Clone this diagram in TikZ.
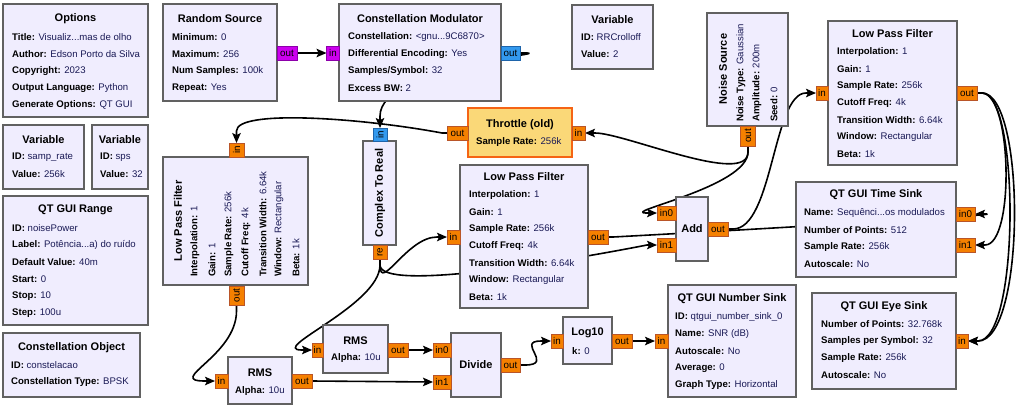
\documentclass[tikz,border=0pt]{standalone}
\usepackage{fontspec}
\setmainfont{Liberation Sans}
\usetikzlibrary{arrows.meta,calc}
\definecolor{blkfill}{RGB}{240,237,254}
\definecolor{blkline}{RGB}{97,97,97}
\definecolor{valcol}{RGB}{25,25,85}
\definecolor{portor}{RGB}{245,128,0}
\definecolor{portorb}{RGB}{185,85,40}
\definecolor{portpu}{RGB}{204,0,238}
\definecolor{portpub}{RGB}{140,0,170}
\definecolor{portbl}{RGB}{51,153,238}
\definecolor{portblb}{RGB}{30,100,170}
\definecolor{thrfill}{RGB}{250,216,120}
\definecolor{thrline}{RGB}{245,100,20}
\pgfdeclarelayer{bg}
\pgfdeclarelayer{wires}
\pgfsetlayers{bg,wires,main}
\newcommand{\gkv}[2]{\textbf{#1:} \textcolor{valcol}{#2}}
\begin{document}
\begin{tikzpicture}[x=1pt,y=-1pt,
  blk/.style={draw=blkline, line width=1.8pt, fill=blkfill, anchor=north west, inner sep=0pt, outer sep=0pt},
  thrblk/.style={blk, draw=thrline, fill=thrfill},
  ttl/.style={font=\fontsize{11}{13}\selectfont\bfseries, inner sep=0pt, anchor=center},
  row/.style={font=\fontsize{9.6}{12}\selectfont, inner sep=0pt, anchor=west},
  vrow/.style={row, rotate=90},
  vttl/.style={ttl, rotate=90},
  port/.style={draw=portorb, fill=portor, line width=0.8pt, inner sep=0pt, outer sep=0pt, minimum height=14pt, font=\fontsize{9.8}{12}\selectfont},
  pport/.style={port, draw=portpub, fill=portpu},
  bport/.style={port, draw=portblb, fill=portbl},
  vport/.style={port, rotate=90, minimum height=15pt},
  wire/.style={draw=black, line width=1.6pt, line join=round, -{Stealth[length=10pt,width=8.5pt,inset=2pt]}}
]
\begin{pgfonlayer}{bg}
\fill[white] (0,0) rectangle (1023,408);
\end{pgfonlayer}
\useasboundingbox (0,0) rectangle (1023,408);

% Options
\node[blk, minimum width=145pt, minimum height=113pt] (opt) at (3,4) {};
\node[ttl] (optT) at (75.5,19) {Options};
\node[row] (opt1) at (12,37) {\gkv{Title}{Visualiz...mas de olho}};
\node[row] (opt2) at (12,54) {\gkv{Author}{Edson Porto da Silva}};
\node[row] (opt3) at (12,71) {\gkv{Copyright}{2023}};
\node[row] (opt4) at (12,88) {\gkv{Output Language}{Python}};
\node[row] (opt5) at (12,105) {\gkv{Generate Options}{QT GUI}};

% Variables
\node[blk, minimum width=81pt, minimum height=64pt] (vsr) at (3,125) {};
\node[ttl] (vsrT) at (43.5,140) {Variable};
\node[row] (vsr1) at (12,157) {\gkv{ID}{samp\_rate}};
\node[row] (vsr2) at (12,174) {\gkv{Value}{256k}};

\node[blk, minimum width=56pt, minimum height=64pt] (vsps) at (92,125) {};
\node[ttl] (vspsT) at (120,140) {Variable};
\node[row] (vsps1) at (100,157) {\gkv{ID}{sps}};
\node[row] (vsps2) at (100,174) {\gkv{Value}{32}};

% QT GUI Range
\node[blk, minimum width=145pt, minimum height=129pt] (rng) at (3,196) {};
\node[ttl] (rngT) at (75.5,210) {QT GUI Range};
\node[row] (rng1) at (12,228) {\gkv{ID}{noisePower}};
\node[row] (rng2) at (12,245) {\gkv{Label}{Potência...a) do ruído}};
\node[row] (rng3) at (12,262) {\gkv{Default Value}{40m}};
\node[row] (rng4) at (12,279) {\gkv{Start}{0}};
\node[row] (rng5) at (12,296) {\gkv{Stop}{10}};
\node[row] (rng6) at (12,313) {\gkv{Step}{100u}};

% Constellation Object
\node[blk, minimum width=137pt, minimum height=64pt] (cob) at (3,333) {};
\node[ttl] (cobT) at (71.5,348) {Constellation Object};
\node[row] (cob1) at (11,365) {\gkv{ID}{constelacao}};
\node[row] (cob2) at (11,382) {\gkv{Constellation Type}{BPSK}};

% Random Source
\node[blk, minimum width=114pt, minimum height=97pt] (rs) at (163,4) {};
\node[ttl] (rsT) at (220,19) {Random Source};
\node[row] (rs1) at (172,37) {\gkv{Minimum}{0}};
\node[row] (rs2) at (172,54) {\gkv{Maximum}{256}};
\node[row] (rs3) at (172,71) {\gkv{Num Samples}{100k}};
\node[row] (rs4) at (172,88) {\gkv{Repeat}{Yes}};
\node[pport, minimum width=20pt] (rsout) at (287,53) {out};

% Constellation Modulator
\node[blk, minimum width=162pt, minimum height=97pt] (cm) at (339,4) {};
\node[ttl] (cmT) at (420,19) {Constellation Modulator};
\node[row] (cm1) at (348,37) {\gkv{Constellation}{<gnu...9C6870>}};
\node[row] (cm2) at (348,54) {\gkv{Differential Encoding}{Yes}};
\node[row] (cm3) at (348,71) {\gkv{Samples/Symbol}{32}};
\node[row] (cm4) at (348,88) {\gkv{Excess BW}{2}};
\node[pport, minimum width=13pt] (cmin) at (333,53) {in};
\node[bport, minimum width=19pt] (cmout) at (510.5,53) {out};

% Variable RRCrolloff
\node[blk, minimum width=81pt, minimum height=64pt] (vrr) at (572,5) {};
\node[ttl] (vrrT) at (612.5,20) {Variable};
\node[row] (vrr1) at (581,37) {\gkv{ID}{RRCrolloff}};
\node[row] (vrr2) at (581,54) {\gkv{Value}{2}};

% Noise Source (rotated)
\node[blk, minimum width=81pt, minimum height=113pt] (ns) at (707,13) {};
\node[vttl] (nsT) at (723,69) {Noise Source};
\node[vrow] (ns1) at (741,122) {\gkv{Noise Type}{Gaussian}};
\node[vrow] (ns2) at (757,122) {\gkv{Amplitude}{200m}};
\node[vrow] (ns3) at (774,122) {\gkv{Seed}{0}};
\node[vport, minimum width=20pt] (nsout) at (748,136) {out};

% Throttle
\node[thrblk, minimum width=104pt, minimum height=49pt] (thr) at (468,108) {};
\node[ttl] (thrT) at (520,125) {Throttle (old)};
\node[row] (thr1) at (476,142) {\gkv{Sample Rate}{256k}};
\node[port, minimum width=21pt] (throut) at (457.5,133) {out};
\node[port, minimum width=13pt] (thrin) at (578.5,133) {in};

% Low Pass Filter (top right)
\node[blk, minimum width=129pt, minimum height=144pt] (lpf3) at (828,21) {};
\node[ttl] (lpf3T) at (892.5,34) {Low Pass Filter};
\node[row] (lpf31) at (837,52) {\gkv{Interpolation}{1}};
\node[row] (lpf32) at (837,69) {\gkv{Gain}{1}};
\node[row] (lpf33) at (837,86) {\gkv{Sample Rate}{256k}};
\node[row] (lpf34) at (837,103) {\gkv{Cutoff Freq}{4k}};
\node[row] (lpf35) at (837,120) {\gkv{Transition Width}{6.64k}};
\node[row] (lpf36) at (837,137) {\gkv{Window}{Rectangular}};
\node[row] (lpf37) at (837,154) {\gkv{Beta}{1k}};
\node[port, minimum width=12pt] (lpf3in) at (822,93) {in};
\node[port, minimum width=20pt] (lpf3out) at (967,93) {out};

% Low Pass Filter (rotated, left)
\node[blk, minimum width=145pt, minimum height=128pt] (lpf1) at (163,157) {};
\node[vttl] (lpf1T) at (178,221) {Low Pass Filter};
\node[vrow] (lpf11) at (195,277) {\gkv{Interpolation}{1}};
\node[vrow] (lpf12) at (212,277) {\gkv{Gain}{1}};
\node[vrow] (lpf13) at (229,277) {\gkv{Sample Rate}{256k}};
\node[vrow] (lpf14) at (246,277) {\gkv{Cutoff Freq}{4k}};
\node[vrow] (lpf15) at (263,277) {\gkv{Transition Width}{6.64k}};
\node[vrow] (lpf16) at (279,277) {\gkv{Window}{Rectangular}};
\node[vrow] (lpf17) at (296,277) {\gkv{Beta}{1k}};
\node[vport, minimum width=14pt] (lpf1in) at (236.5,150) {in};
\node[vport, minimum width=19pt] (lpf1out) at (236.5,295.5) {out};

% Complex To Real
\node[blk, minimum width=33pt, minimum height=104pt] (c2r) at (363,141) {};
\node[vttl] (c2rT) at (380,193) {Complex To Real};
\node[vport, bport, minimum width=13pt, minimum height=14pt] (c2rin) at (380,134.5) {in};
\node[vport, minimum width=14pt, minimum height=14pt] (c2rre) at (380,252) {re};

% Low Pass Filter (middle)
\node[blk, minimum width=128pt, minimum height=143pt] (lpf2) at (460,165) {};
\node[ttl] (lpf2T) at (524,177) {Low Pass Filter};
\node[row] (lpf21) at (469,195) {\gkv{Interpolation}{1}};
\node[row] (lpf22) at (469,212) {\gkv{Gain}{1}};
\node[row] (lpf23) at (469,229) {\gkv{Sample Rate}{256k}};
\node[row] (lpf24) at (469,246) {\gkv{Cutoff Freq}{4k}};
\node[row] (lpf25) at (469,263) {\gkv{Transition Width}{6.64k}};
\node[row] (lpf26) at (469,280) {\gkv{Window}{Rectangular}};
\node[row] (lpf27) at (469,297) {\gkv{Beta}{1k}};
\node[port, minimum width=13pt] (lpf2in) at (453.5,237) {in};
\node[port, minimum width=20pt] (lpf2out) at (598,237) {out};

% Add
\node[blk, minimum width=32pt, minimum height=64pt] (add) at (676,197) {};
\node[ttl] (addT) at (692,229) {Add};
\node[port, minimum width=19pt] (addin0) at (666.5,213) {in0};
\node[port, minimum width=19pt] (addin1) at (666.5,245) {in1};
\node[port, minimum width=20pt] (addout) at (718,229) {out};

% QT GUI Time Sink
\node[blk, minimum width=160pt, minimum height=95pt] (ts) at (796,182) {};
\node[ttl] (tsT) at (876,195) {QT GUI Time Sink};
\node[row] (ts1) at (804,213) {\gkv{Name}{Sequênci...os modulados}};
\node[row] (ts2) at (804,230) {\gkv{Number of Points}{512}};
\node[row] (ts3) at (804,247) {\gkv{Sample Rate}{256k}};
\node[row] (ts4) at (804,264) {\gkv{Autoscale}{No}};
\node[port, minimum width=19pt] (tsin0) at (965.5,214) {in0};
\node[port, minimum width=19pt] (tsin1) at (965.5,245) {in1};

% QT GUI Eye Sink
\node[blk, minimum width=144pt, minimum height=96pt] (eye) at (812,293) {};
\node[ttl] (eyeT) at (884,307) {QT GUI Eye Sink};
\node[row] (eye1) at (821,324) {\gkv{Number of Points}{32.768k}};
\node[row] (eye2) at (821,341) {\gkv{Samples per Symbol}{32}};
\node[row] (eye3) at (821,358) {\gkv{Sample Rate}{256k}};
\node[row] (eye4) at (821,375) {\gkv{Autoscale}{No}};
\node[port, minimum width=12pt] (eyein) at (962,341) {in};

% QT GUI Number Sink
\node[blk, minimum width=128pt, minimum height=112pt] (nb) at (668,285) {};
\node[ttl] (nbT) at (732,299) {QT GUI Number Sink};
\node[row] (nb1) at (675,317) {\gkv{ID}{qtgui\_number\_sink\_0}};
\node[row] (nb2) at (675,334) {\gkv{Name}{SNR (dB)}};
\node[row] (nb3) at (675,351) {\gkv{Autoscale}{No}};
\node[row] (nb4) at (675,368) {\gkv{Average}{0}};
\node[row] (nb5) at (675,385) {\gkv{Graph Type}{Horizontal}};
\node[port, minimum width=13pt] (nbin) at (661.5,341) {in};

% Log10
\node[blk, minimum width=49pt, minimum height=47pt] (lg) at (563,317) {};
\node[ttl] (lgT) at (587.5,333) {Log10};
\node[row] (lg1) at (572,351) {\gkv{k}{0}};
\node[port, minimum width=12pt] (lgin) at (557,341) {in};
\node[port, minimum width=20pt] (lgout) at (622,341) {out};

% Divide
\node[blk, minimum width=50pt, minimum height=64pt] (dv) at (451,333) {};
\node[ttl] (dvT) at (476,365) {Divide};
\node[port, minimum width=18pt] (dvin0) at (442,350) {in0};
\node[port, minimum width=18pt] (dvin1) at (442,382) {in1};
\node[port, minimum width=19pt] (dvout) at (510.5,365) {out};

% RMS (upper)
\node[blk, minimum width=65pt, minimum height=48pt] (rmsb) at (323,325) {};
\node[ttl] (rmsbT) at (355.5,341) {RMS};
\node[row] (rmsb1) at (331,358) {\gkv{Alpha}{10u}};
\node[port, minimum width=11pt] (rmsbin) at (317.5,350) {in};
\node[port, minimum width=20pt] (rmsbout) at (398,350) {out};

% RMS (lower)
\node[blk, minimum width=64pt, minimum height=47pt] (rmsa) at (228,357) {};
\node[ttl] (rmsaT) at (260,373) {RMS};
\node[row] (rmsa1) at (235,391) {\gkv{Alpha}{10u}};
\node[port, minimum width=13pt] (rmsain) at (221.5,381) {in};
\node[port, minimum width=20pt] (rmsaout) at (302,381) {out};

\begin{pgfonlayer}{wires}
\draw[wire] (rsout.east) -- (cmin.west);
\draw[wire] (cmout.east) -- ++(5,0) .. controls +(34,0) and +(0,-50) .. ($(c2rin.east)+(0,-12)$) -- (c2rin.east);
\draw[wire] (c2rre.west) -- ++(0,6) .. controls +(0,28) and +(-30,0) .. ($(lpf2in.west)+(-10,0)$) -- (lpf2in.west);
\draw[wire] (c2rre.west) -- ++(0,6) .. controls +(0,40) and +(-35,0) .. ($(rmsbin.west)+(-10,0)$) -- (rmsbin.west);
\draw[wire] (c2rre.west) -- ++(0,6) .. controls +(0,27) and +(-87,17) .. ($(addin1.west)+(-10,0)$) -- (addin1.west);
\draw[wire] (lpf2out.east) -- ++(5,0) .. controls +(150,-8) and +(28,0) .. ($(tsin0.east)+(10,0)$) -- (tsin0.east);
\draw[wire] (nsout.west) -- ++(0,6) .. controls +(0,35) and +(-30,0) .. ($(addin0.west)+(-10,0)$) -- (addin0.west);
\draw[wire] (nsout.west) -- ++(0,6) .. controls +(0,35) and +(30,0) .. ($(thrin.east)+(10,0)$) -- (thrin.east);
\draw[wire] (throut.west) -- ++(-5,0) .. controls +(-80,-15) and +(0,-22) .. ($(lpf1in.east)+(0,-12)$) -- (lpf1in.east);
\draw[wire] (lpf1out.west) -- ++(0,6) .. controls +(0,45) and +(-40,0) .. ($(rmsain.west)+(-10,0)$) -- (rmsain.west);
\draw[wire] (rmsaout.east) -- (dvin1.west);
\draw[wire] (rmsbout.east) -- (dvin0.west);
\draw[wire] (dvout.east) -- ++(5,0) .. controls +(30,0) and +(-26,0) .. ($(lgin.west)+(-10,0)$) -- (lgin.west);
\draw[wire] (lgout.east) -- (nbin.west);
\draw[wire] (addout.east) -- ++(5,0) .. controls +(40,0) and +(-33,0) .. ($(lpf3in.west)+(-10,0)$) -- (lpf3in.west);
\draw[wire] (lpf3out.east) -- ++(5,0) .. controls +(30,0) and +(30,0) .. ($(tsin1.east)+(10,0)$) -- (tsin1.east);
\draw[wire] (lpf3out.east) -- ++(5,0) .. controls +(38,0) and +(42,0) .. ($(eyein.east)+(10,0)$) -- (eyein.east);
\draw[wire] (lpf3out.east) -- ++(5,0) .. controls +(44,0) and +(48,0) .. ($(eyein.east)+(10,0)$) -- (eyein.east);
\end{pgfonlayer}
\end{tikzpicture}
\end{document}
